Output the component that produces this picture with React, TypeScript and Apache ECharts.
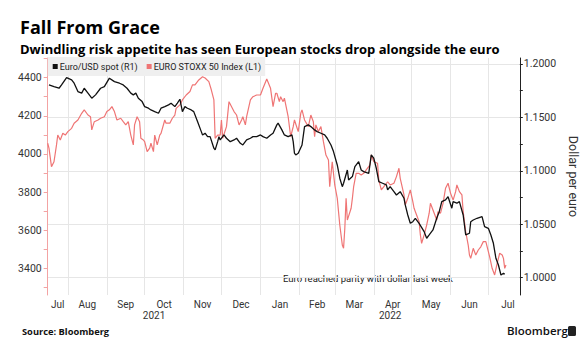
import React, { useEffect, useRef } from 'react';
import * as echarts from 'echarts';

const eurDates = [
  '2021-07-17','2021-07-21','2021-07-25','2021-07-27','2021-07-31','2021-08-04','2021-08-06','2021-08-09','2021-08-12','2021-08-14',
  '2021-08-17','2021-08-20','2021-08-23','2021-08-27','2021-08-30','2021-09-03','2021-09-07','2021-09-11','2021-09-14','2021-09-17',
  '2021-09-20','2021-09-22','2021-09-24','2021-09-26','2021-09-29','2021-10-01','2021-10-04','2021-10-06','2021-10-09','2021-10-12',
  '2021-10-14','2021-10-17','2021-10-20','2021-10-22','2021-10-25','2021-10-27','2021-10-29','2021-10-31','2021-11-02','2021-11-04',
  '2021-11-07','2021-11-09','2021-11-12','2021-11-15','2021-11-16','2021-11-18','2021-11-20','2021-11-22','2021-11-25','2021-11-26',
  '2021-11-28','2021-11-29','2021-11-30','2021-12-03','2021-12-05','2021-12-08','2021-12-11','2021-12-13','2021-12-16','2021-12-18',
  '2021-12-21','2021-12-24','2021-12-26','2021-12-29','2022-01-01','2022-01-03','2022-01-06','2022-01-09','2022-01-11','2022-01-14',
  '2022-01-15','2022-01-18','2022-01-20','2022-01-23','2022-01-26','2022-01-27','2022-01-28','2022-01-29','2022-01-31','2022-02-03',
  '2022-02-05','2022-02-08','2022-02-10','2022-02-13','2022-02-15','2022-02-18','2022-02-21','2022-02-23','2022-02-26','2022-02-28',
  '2022-03-03','2022-03-05','2022-03-07','2022-03-08','2022-03-11','2022-03-12','2022-03-15','2022-03-17','2022-03-20','2022-03-22',
  '2022-03-24','2022-03-28','2022-03-30','2022-04-01','2022-04-03','2022-04-05','2022-04-08','2022-04-11','2022-04-12','2022-04-14',
  '2022-04-17','2022-04-19','2022-04-22','2022-04-25','2022-04-26','2022-04-28','2022-04-30','2022-05-02','2022-05-04','2022-05-07',
  '2022-05-11','2022-05-13','2022-05-15','2022-05-18','2022-05-21','2022-05-23','2022-05-25','2022-05-28','2022-05-30','2022-06-02',
  '2022-06-03','2022-06-06','2022-06-08','2022-06-11','2022-06-13','2022-06-16','2022-06-17','2022-06-19','2022-06-22','2022-06-26',
  '2022-06-28','2022-07-01','2022-07-03','2022-07-05','2022-07-07','2022-07-09','2022-07-11','2022-07-13','2022-07-14'
];
const eurValues = [
  1.1804,1.1788,1.1773,1.1804,1.1873,1.1851,1.182,1.1742,1.1727,1.1773,
  1.1727,1.168,1.1711,1.1773,1.1788,1.1867,1.1835,1.182,1.1804,1.1773,
  1.1727,1.1711,1.1727,1.168,1.1648,1.1601,1.1586,1.157,1.1554,1.1539,
  1.1586,1.1601,1.1617,1.1633,1.1601,1.1633,1.167,1.1554,1.1601,1.1586,
  1.157,1.1554,1.1461,1.1367,1.1336,1.1352,1.132,1.132,1.1212,1.1196,
  1.1273,1.132,1.1289,1.1336,1.1305,1.1273,1.1289,1.1305,1.1258,1.1242,
  1.1289,1.1305,1.132,1.132,1.1336,1.132,1.1305,1.1336,1.1352,1.143,
  1.1446,1.1383,1.1336,1.132,1.1336,1.1273,1.1165,1.1149,1.1165,1.1242,
  1.1414,1.143,1.1414,1.1383,1.1367,1.1352,1.1336,1.1305,1.1242,1.118,
  1.1055,1.0931,1.0852,1.0884,1.1008,1.0915,1.0946,1.1039,1.1086,1.1008,
  1.0993,1.0977,1.1149,1.1118,1.1024,1.0899,1.0884,1.0868,1.0821,1.0852,
  1.0805,1.0774,1.0805,1.0743,1.0681,1.0587,1.0509,1.0524,1.0556,1.0509,
  1.0431,1.0369,1.04,1.0447,1.0556,1.0618,1.0712,1.0728,1.0758,1.065,
  1.0712,1.0697,1.0712,1.0587,1.04,1.0416,1.0524,1.054,1.0556,1.0571,
  1.0478,1.0462,1.04,1.0322,1.0182,1.0119,1.0025,1.0041,1.0032
];

const stoxxDates = [
  '2021-07-16','2021-07-17','2021-07-19','2021-07-21','2021-07-23','2021-07-24','2021-07-26','2021-07-28','2021-07-30','2021-08-01',
  '2021-08-04','2021-08-06','2021-08-09','2021-08-12','2021-08-14','2021-08-17','2021-08-19','2021-08-20','2021-08-22','2021-08-25',
  '2021-08-27','2021-08-30','2021-09-01','2021-09-03','2021-09-05','2021-09-07','2021-09-09','2021-09-12','2021-09-14','2021-09-16',
  '2021-09-18','2021-09-20','2021-09-22','2021-09-23','2021-09-25','2021-09-27','2021-09-28','2021-09-30','2021-10-01','2021-10-03',
  '2021-10-05','2021-10-06','2021-10-08','2021-10-09','2021-10-11','2021-10-13','2021-10-14','2021-10-17','2021-10-18','2021-10-21',
  '2021-10-23','2021-10-25','2021-10-26','2021-10-29','2021-10-31','2021-11-03','2021-11-06','2021-11-08','2021-11-10','2021-11-13',
  '2021-11-16','2021-11-18','2021-11-21','2021-11-23','2021-11-25','2021-11-26','2021-11-28','2021-11-30','2021-12-01','2021-12-02',
  '2021-12-05','2021-12-07','2021-12-11','2021-12-13','2021-12-15','2021-12-17','2021-12-18','2021-12-20','2021-12-21','2021-12-24',
  '2021-12-26','2021-12-29','2022-01-01','2022-01-03','2022-01-06','2022-01-09','2022-01-11','2022-01-13','2022-01-14','2022-01-16',
  '2022-01-17','2022-01-19','2022-01-20','2022-01-23','2022-01-25','2022-01-27','2022-01-28','2022-01-31','2022-02-02','2022-02-03',
  '2022-02-05','2022-02-08','2022-02-10','2022-02-12','2022-02-13','2022-02-14','2022-02-16','2022-02-18','2022-02-20','2022-02-22',
  '2022-02-24','2022-02-25','2022-02-27','2022-03-01','2022-03-03','2022-03-05','2022-03-07','2022-03-08','2022-03-09','2022-03-10',
  '2022-03-11','2022-03-14','2022-03-15','2022-03-16','2022-03-18','2022-03-20','2022-03-22','2022-03-24','2022-03-26','2022-03-29',
  '2022-03-30','2022-04-01','2022-04-04','2022-04-05','2022-04-07','2022-04-09','2022-04-12','2022-04-14','2022-04-17','2022-04-19',
  '2022-04-21','2022-04-22','2022-04-25','2022-04-26','2022-04-28','2022-04-30','2022-05-02','2022-05-03','2022-05-05','2022-05-07',
  '2022-05-08','2022-05-09','2022-05-11','2022-05-13','2022-05-15','2022-05-16','2022-05-19','2022-05-21','2022-05-22','2022-05-24',
  '2022-05-26','2022-05-28','2022-05-30','2022-06-01','2022-06-03','2022-06-05','2022-06-06','2022-06-08','2022-06-10','2022-06-11',
  '2022-06-13','2022-06-15','2022-06-16','2022-06-17','2022-06-19','2022-06-21','2022-06-23','2022-06-25','2022-06-27','2022-06-29',
  '2022-07-01','2022-07-02','2022-07-04','2022-07-06','2022-07-08','2022-07-10','2022-07-12','2022-07-13','2022-07-14','2022-07-15'
];
const stoxxValues = [
  4056,4030,3933,3959,4047,4099,4073,4108,4099,4117,
  4134,4161,4178,4213,4231,4204,4195,4126,4169,4178,
  4187,4195,4222,4231,4248,4222,4178,4187,4169,4152,
  4169,4099,4047,4152,4195,4169,4082,4073,4064,4012,
  4030,4056,4012,4099,4047,4099,4108,4178,4161,4161,
  4187,4204,4239,4257,4283,4309,4327,4362,4362,4388,
  4405,4398,4379,4335,4283,4082,4099,4099,4178,4082,
  4143,4274,4222,4204,4152,4178,4195,4152,4195,4283,
  4300,4309,4309,4344,4393,4344,4248,4318,4318,4274,
  4300,4274,4292,4195,4090,4143,4178,4117,4213,4231,
  4178,4143,4204,4169,4090,4152,4117,4143,4064,3994,
  3968,3828,3959,3837,3767,3627,3522,3505,3610,3767,
  3653,3715,3767,3828,3898,3898,3889,3898,3916,3942,
  3994,3959,3951,3863,3811,3828,3854,3837,3846,3881,
  3925,3872,3785,3732,3767,3811,3750,3715,3680,3645,
  3575,3531,3575,3627,3689,3741,3689,3653,3697,3689,
  3741,3820,3846,3793,3758,3802,3837,3802,3785,3697,
  3592,3522,3470,3452,3505,3470,3496,3513,3540,3540,
  3487,3461,3400,3365,3426,3479,3470,3452,3400,3417
];

const monthStarts = [
  '2021-07-01','2021-08-01','2021-09-01','2021-10-01','2021-11-01','2021-12-01','2022-01-01',
  '2022-02-01','2022-03-01','2022-04-01','2022-05-01','2022-06-01','2022-07-01','2022-08-01'
];
const monthNames = ['Jul','Aug','Sep','Oct','Nov','Dec','Jan','Feb','Mar','Apr','May','Jun','Jul'];
const yearStarts = ['2021-01-01', '2022-01-01', '2023-01-01'];
const yearNames = ['2021', '2022'];
const leftTicks = [3400, 3600, 3800, 4000, 4200, 4400];
const rightTicks = [1.0, 1.05, 1.1, 1.15, 1.2];

const xStart = '2021-07-16';
const xEnd = '2022-07-26';

const RED = '#ef7575';
const FONT = 'Roboto, "Noto Sans", sans-serif';

function ts(s: string): number {
  const [y, m, d] = s.split('-').map(Number);
  return new Date(y, m - 1, d).getTime();
}

export default function App() {
  const ref = useRef<HTMLDivElement>(null);

  useEffect(() => {
    if (!ref.current) return;
    const chart = echarts.init(ref.current, undefined, { renderer: 'svg' });

    const xMin = ts(xStart);
    const xMax = ts(xEnd);

    const gridLines = monthStarts.map(ts).filter((t) => t > xMin && t < xMax);
    const monthLabelMap = new Map<number, string>();
    const monthLabelPos: number[] = [];
    monthNames.forEach((name, i) => {
      const s = Math.max(ts(monthStarts[i]), xMin);
      const e = ts(monthStarts[i + 1]);
      const c = Math.round((s + e) / 2);
      monthLabelMap.set(c, name);
      monthLabelPos.push(c);
    });
    const yearLabelMap = new Map<number, string>();
    const yearLabelPos: number[] = [];
    yearNames.forEach((name, i) => {
      const s = Math.max(ts(yearStarts[i]), xMin);
      const e = Math.min(ts(yearStarts[i + 1]), xMax);
      const c = Math.round((s + e) / 2);
      yearLabelMap.set(c, name);
      yearLabelPos.push(c);
    });

    const leftMinor: number[] = [];
    for (let v = 3300; v <= 4500; v += 100) leftMinor.push(v);
    const rightMinor: number[] = [];
    for (let v = 1.0; v <= 1.2001; v += 0.025) rightMinor.push(Math.round(v * 1000) / 1000);

    const findLabel = (map: Map<number, string>, v: number) => {
      let best = '';
      let bd = Infinity;
      map.forEach((name, k) => {
        const d = Math.abs(k - v);
        if (d < bd) { bd = d; best = name; }
      });
      return best;
    };

    const option: any = {
      animation: false,
      backgroundColor: '#ffffff',
      title: [
        {
          text: 'Fall From Grace',
          left: 20,
          top: 18,
          textStyle: { fontFamily: '"Open Sans", sans-serif', fontWeight: 'bold', fontSize: 18, lineHeight: 18, color: '#000' },
          padding: 0,
        },
        {
          text: 'Dwindling risk appetite has seen European stocks drop alongside the euro',
          left: 20,
          top: 42,
          textStyle: { fontFamily: '"Open Sans", sans-serif', fontWeight: 'bold', fontSize: 13, lineHeight: 13, color: '#000' },
          padding: 0,
        },
      ],
      legend: {
        left: 47.7,
        top: 57,
        data: ['Euro/USD spot (R1)', 'EURO STOXX 50 Index (L1)'],
        icon: 'rect',
        itemWidth: 5,
        itemHeight: 5,
        itemGap: 9,
        padding: [5, 4, 5, 5],
        backgroundColor: '#efefef',
        textStyle: { fontFamily: FONT, fontSize: 9, color: '#222', padding: [0, 0, 0, -3] },
      },
      grid: { left: 47.7, right: 61.3, top: 58, bottom: 63, containLabel: false },
      xAxis: [
        {
          type: 'value',
          min: xMin,
          max: xMax,
          axisLine: { show: false },
          axisTick: { show: false, customValues: gridLines },
          splitLine: { show: true, lineStyle: { color: '#e6e6e6', width: 1 } },
          axisLabel: {
            customValues: monthLabelPos,
            formatter: (v: number) => findLabel(monthLabelMap, v),
            fontFamily: FONT,
            fontSize: 10,
            color: '#333',
            margin: 4,
          },
        },
        {
          type: 'value',
          min: xMin,
          max: xMax,
          position: 'bottom',
          axisLine: { show: false },
          axisTick: { show: false, customValues: yearLabelPos },
          splitLine: { show: false },
          axisLabel: {
            customValues: yearLabelPos,
            formatter: (v: number) => findLabel(yearLabelMap, v),
            fontFamily: FONT,
            fontSize: 10,
            color: '#333',
            margin: 15,
          },
        },
      ],
      yAxis: [
        {
          type: 'value',
          position: 'left',
          min: 3260,
          max: 4503,
          axisLine: { show: true, lineStyle: { color: '#f3a3a3', width: 1 } },
          axisTick: { show: true, length: 4, customValues: leftMinor, lineStyle: { color: '#f3a3a3' } },
          axisLabel: {
            customValues: leftTicks,
            formatter: (v: number) => String(Math.round(v)),
            fontFamily: FONT,
            fontSize: 10.5,
            color: '#333',
            margin: 6,
          },
          splitLine: { show: false },
        },
        {
          type: 'value',
          position: 'right',
          min: 0.9838,
          max: 1.2056,
          name: 'Dollar per euro',
          nameLocation: 'middle',
          nameRotate: -90,
          nameGap: 43,
          nameTextStyle: { fontFamily: FONT, fontSize: 12.5, color: '#333' },
          axisLine: { show: true, lineStyle: { color: '#222', width: 1 } },
          axisTick: { show: true, length: 3, customValues: rightMinor, lineStyle: { color: '#222' } },
          axisLabel: {
            customValues: rightTicks,
            formatter: (v: number) => v.toFixed(4),
            fontFamily: FONT,
            fontSize: 10.5,
            color: '#333',
            margin: 4,
          },
          splitLine: { show: false },
        },
        {
          type: 'value',
          position: 'right',
          min: 0.9838,
          max: 1.2056,
          axisLine: { show: false },
          axisTick: { show: false, customValues: rightTicks },
          axisLabel: { show: false, customValues: rightTicks },
          splitLine: { show: true, lineStyle: { color: '#e6e6e6', width: 1 } },
        },
      ],
      graphic: [
        {
          type: 'text',
          left: 283,
          top: 273,
          style: { text: 'Euro reached parity with dollar last week', fill: '#222', font: `9.5px ${FONT}` },
        },
        {
          type: 'text',
          left: 22,
          top: 327,
          style: { text: 'Source: Bloomberg', fill: '#111', font: `bold 9.3px "Open Sans", sans-serif` },
        },
        {
          type: 'text',
          left: 507,
          top: 324,
          style: { text: 'Bloomberg', fill: '#111', font: `600 11.5px "Open Sans", sans-serif` },
        },
        {
          type: 'rect',
          left: 568,
          top: 326,
          shape: { width: 8, height: 10, r: 1.5 },
          style: { fill: '#222' },
        },
      ],
      series: [
        {
          name: 'EURO STOXX 50 Index (L1)',
          type: 'line',
          xAxisIndex: 0,
          yAxisIndex: 0,
          data: stoxxDates.map((d, i) => [ts(d), stoxxValues[i]]),
          showSymbol: false,
          symbol: 'none',
          color: RED,
          lineStyle: { color: RED, width: 1.2 },
          z: 2,
        },
        {
          name: 'Euro/USD spot (R1)',
          type: 'line',
          xAxisIndex: 0,
          yAxisIndex: 1,
          data: eurDates.map((d, i) => [ts(d), eurValues[i]]),
          showSymbol: false,
          symbol: 'none',
          color: '#111',
          lineStyle: { color: '#111', width: 1.3 },
          z: 3,
        },
      ],
    };

    chart.setOption(option);
    return () => chart.dispose();
  }, []);

  return (
    <div
      ref={ref}
      style={{ position: 'absolute', left: 0, top: 0, width: 588, height: 358, background: '#fff' }}
    />
  );
}
